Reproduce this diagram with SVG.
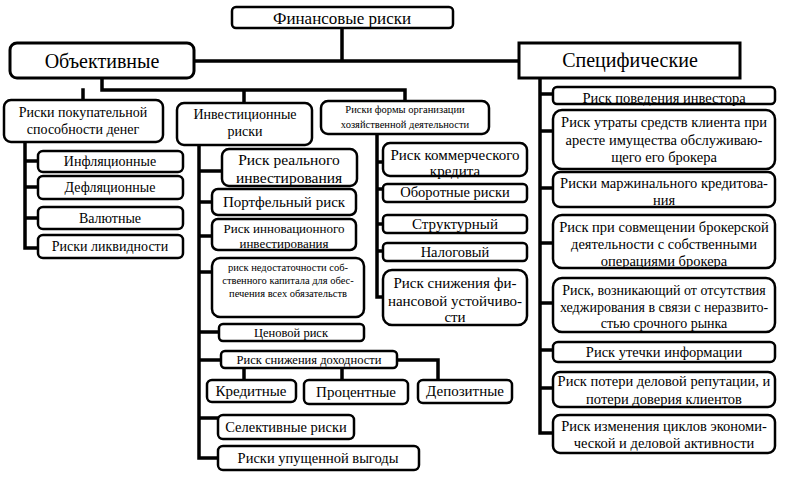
<svg xmlns="http://www.w3.org/2000/svg" width="787" height="480" viewBox="0 0 787 480" font-family="'Liberation Serif', 'DejaVu Serif', 'Times New Roman', serif">
<style>
.f{fill:#fff;stroke:none}
.b{fill:none;stroke:#000;stroke-width:2.5}
text{font-family:'Liberation Serif','DejaVu Serif','Times New Roman',serif;fill:#000;text-anchor:middle;font-size:14px}
.c{fill:none;stroke:#000;stroke-width:3.5;stroke-linecap:square;stroke-linejoin:miter}
.s{font-size:10.5px}
.m{font-size:12.5px}
.l{font-size:15px}
.r{font-size:14.5px}
.xl{font-size:20px}
</style>
<rect width="787" height="480" fill="#fff"/>
<g id="connectors">
<path class="c" d="M342 28V61M194 61H519"/>
<path class="c" d="M102 78V90H405V101M83 90V100M244 90V103"/>
<path class="c" d="M25 142V248H38M25 161H38M25 187H38M25 218H38"/>
<path class="c" d="M199 145V458H218M199 171H222M199 202H212M199 236H212M199 272H212M199 332H219M199 360H221M199 418H218"/>
<path class="c" d="M244 368V380M342 368V380M397 360H438V380"/>
<path class="c" d="M377 134V297H383M377 162H383M377 189H383M377 224H383M377 251H383"/>
<path class="c" d="M540 78V433H553M540 94H553M540 131H553M540 188H553M540 243H553M540 303H553M540 350H553M540 388H553"/>
</g>
<g id="n-fin"><rect class="f" x="232" y="7" width="221" height="21" rx="4"/><text x="342" y="24" style="font-size:17px">Финансовые риски</text><rect class="b" x="232" y="7" width="221" height="21" rx="4"/></g>
<g id="n-obj"><rect class="f" x="10" y="43" width="184" height="35" rx="7"/><text class="xl" x="102" y="68">Объективные</text><rect class="b" x="10" y="43" width="184" height="35" rx="7" style="stroke-width:3"/></g>
<g id="n-spec"><rect class="f" x="519" y="43" width="221" height="35"/><text class="xl" x="630" y="67">Специфические</text><rect class="b" x="519" y="43" width="221" height="35" style="stroke-width:3"/></g>
<g id="n-pok"><rect class="f" x="4" y="100" width="159" height="42" rx="7"/><text x="83" y="117">Риски покупательной</text><text x="83" y="134">способности денег</text><rect class="b" x="4" y="100" width="159" height="42" rx="7"/></g>
<g id="n-inv"><rect class="f" x="177" y="103" width="135" height="42" rx="7"/><text x="245" y="119">Инвестиционные</text><text x="245" y="136">риски</text><rect class="b" x="177" y="103" width="135" height="42" rx="7"/></g>
<g id="n-form"><rect class="f" x="321" y="101" width="168" height="33" rx="7"/><text class="s" x="405" y="113">Риски формы организации</text><text class="s" x="405" y="128">хозяйственной деятельности</text><rect class="b" x="321" y="101" width="168" height="33" rx="7"/></g>
<g id="n-infl"><rect class="f" x="38" y="151" width="145" height="21" rx="5"/><text x="110" y="166">Инфляционные</text><rect class="b" x="38" y="151" width="145" height="21" rx="5"/></g>
<g id="n-defl"><rect class="f" x="38" y="176" width="145" height="23" rx="5"/><text x="110" y="192">Дефляционные</text><rect class="b" x="38" y="176" width="145" height="23" rx="5"/></g>
<g id="n-val"><rect class="f" x="38" y="207" width="145" height="22" rx="5"/><text x="110" y="223">Валютные</text><rect class="b" x="38" y="207" width="145" height="22" rx="5"/></g>
<g id="n-likv"><rect class="f" x="38" y="235" width="145" height="23" rx="5"/><text x="110" y="251">Риски ликвидности</text><rect class="b" x="38" y="235" width="145" height="23" rx="5"/></g>
<g id="n-real"><rect class="f" x="222" y="149" width="135" height="37" rx="7"/><text x="289" y="165" style="font-size:15.5px">Риск реального</text><text x="289" y="183" style="font-size:15.5px">инвестирования</text><rect class="b" x="222" y="149" width="135" height="37" rx="7"/></g>
<g id="n-port"><rect class="f" x="212" y="189" width="144" height="26" rx="6"/><text class="l" x="284" y="207">Портфельный риск</text><rect class="b" x="212" y="189" width="144" height="26" rx="6"/></g>
<g id="n-innov"><rect class="f" x="212" y="219" width="144" height="31" rx="6"/><text x="284" y="233" style="font-size:13px">Риск инновационного</text><text x="284" y="248" style="font-size:13px">инвестирования</text><rect class="b" x="212" y="219" width="144" height="31" rx="6"/></g>
<g id="n-nedost"><rect class="f" x="212" y="258" width="152" height="59" rx="8"/><text class="s" x="288" y="271">риск недостаточности соб-</text><text class="s" x="288" y="284">ственного капитала для обес-</text><text class="s" x="288" y="297">печения всех обязательств</text><rect class="b" x="212" y="258" width="152" height="59" rx="8"/></g>
<g id="n-cen"><rect class="f" x="219" y="324" width="145" height="17" rx="4"/><text class="m" x="291" y="337">Ценовой риск</text><rect class="b" x="219" y="324" width="145" height="17" rx="4"/></g>
<g id="n-dohod"><rect class="f" x="221" y="351" width="176" height="17" rx="4"/><text class="m" x="309" y="364">Риск снижения доходности</text><rect class="b" x="221" y="351" width="176" height="17" rx="4"/></g>
<g id="n-kred"><rect class="f" x="207" y="380" width="89" height="22" rx="5"/><text class="l" x="251" y="396">Кредитные</text><rect class="b" x="207" y="380" width="89" height="22" rx="5"/></g>
<g id="n-proc"><rect class="f" x="304" y="380" width="104" height="24" rx="5"/><text class="l" x="356" y="397">Процентные</text><rect class="b" x="304" y="380" width="104" height="24" rx="5"/></g>
<g id="n-dep"><rect class="f" x="418" y="380" width="94" height="23" rx="5"/><text class="l" x="465" y="396">Депозитные</text><rect class="b" x="418" y="380" width="94" height="23" rx="5"/></g>
<g id="n-sel"><rect class="f" x="218" y="415" width="136" height="24" rx="5"/><text class="r" x="286" y="432">Селективные риски</text><rect class="b" x="218" y="415" width="136" height="24" rx="5"/></g>
<g id="n-upush"><rect class="f" x="218" y="446" width="201" height="24" rx="5"/><text class="r" x="318" y="463">Риски упущенной выгоды</text><rect class="b" x="218" y="446" width="201" height="24" rx="5"/></g>
<g id="n-komm"><rect class="f" x="383" y="143" width="144" height="33" rx="7"/><text class="l" x="455" y="160">Риск коммерческого</text><text class="l" x="455" y="176">кредита</text><rect class="b" x="383" y="143" width="144" height="33" rx="7"/></g>
<g id="n-obor"><rect class="f" x="383" y="184" width="144" height="18" rx="4"/><text class="r" x="455" y="197">Оборотные риски</text><rect class="b" x="383" y="184" width="144" height="18" rx="4"/></g>
<g id="n-struct"><rect class="f" x="383" y="215" width="144" height="18" rx="4"/><text class="l" x="455" y="229">Структурный</text><rect class="b" x="383" y="215" width="144" height="18" rx="4"/></g>
<g id="n-nalog"><rect class="f" x="383" y="243" width="144" height="18" rx="4"/><text class="r" x="455" y="257">Налоговый</text><rect class="b" x="383" y="243" width="144" height="18" rx="4"/></g>
<g id="n-ust"><rect class="f" x="383" y="270" width="144" height="55" rx="9"/><text class="l" x="455" y="288">Риск снижения фи-</text><text class="l" x="455" y="306">нансовой устойчиво-</text><text class="l" x="455" y="322">сти</text><rect class="b" x="383" y="270" width="144" height="55" rx="9"/></g>
<g id="n-pov"><rect class="f" x="553" y="87" width="222" height="17" rx="4"/><text class="r" x="664" y="103">Риск поведения инвестора</text><rect class="b" x="553" y="87" width="222" height="17" rx="4"/></g>
<g id="n-utr"><rect class="f" x="553" y="110" width="222" height="59" rx="9"/><text class="r" x="664" y="127">Риск утраты средств клиента при</text><text class="r" x="664" y="145">аресте имущества обслуживаю-</text><text class="r" x="664" y="162">щего его брокера</text><rect class="b" x="553" y="110" width="222" height="59" rx="9"/></g>
<g id="n-marzh"><rect class="f" x="553" y="172" width="222" height="35" rx="7"/><text class="r" x="664" y="188">Риски маржинального кредитова-</text><text class="r" x="664" y="205">ния</text><rect class="b" x="553" y="172" width="222" height="35" rx="7"/></g>
<g id="n-sovm"><rect class="f" x="553" y="215" width="222" height="53" rx="9"/><text class="r" x="664" y="232">Риск при совмещении брокерской</text><text class="r" x="664" y="249">деятельности с собственными</text><text class="r" x="664" y="266">операциями брокера</text><rect class="b" x="553" y="215" width="222" height="53" rx="9"/></g>
<g id="n-hedzh"><rect class="f" x="553" y="278" width="222" height="54" rx="9"/><text x="664" y="295">Риск, возникающий от отсутствия</text><text x="664" y="312">хеджирования в связи с неразвито-</text><text x="664" y="328">стью срочного рынка</text><rect class="b" x="553" y="278" width="222" height="54" rx="9"/></g>
<g id="n-utech"><rect class="f" x="553" y="342" width="222" height="20" rx="5"/><text class="r" x="664" y="357">Риск утечки информации</text><rect class="b" x="553" y="342" width="222" height="20" rx="5"/></g>
<g id="n-poter"><rect class="f" x="553" y="372" width="222" height="35" rx="7"/><text class="r" x="664" y="386">Риск потери деловой репутации, и</text><text class="r" x="664" y="404">потери доверия клиентов</text><rect class="b" x="553" y="372" width="222" height="35" rx="7"/></g>
<g id="n-cikl"><rect class="f" x="553" y="415" width="222" height="38" rx="7"/><text class="r" x="664" y="431">Риск изменения циклов экономи-</text><text class="r" x="664" y="448">ческой и деловой активности</text><rect class="b" x="553" y="415" width="222" height="38" rx="7"/></g>
</svg>
